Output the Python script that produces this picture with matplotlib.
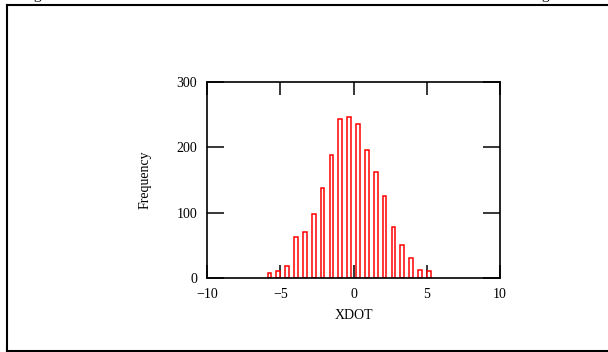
import matplotlib
matplotlib.use("Agg")
import matplotlib.pyplot as plt
from matplotlib.lines import Line2D

plt.rcParams['font.family'] = ['Liberation Serif', 'DejaVu Serif']

# Histogram of XDOT: bin centres and counts
bin_centers = [-5.73, -5.13, -4.52, -3.92, -3.31, -2.71, -2.11, -1.50, -0.90,
               -0.29, 0.31, 0.91, 1.52, 2.12, 2.73, 3.33, 3.93, 4.54, 5.14]
counts = [8, 11, 18, 63, 71, 98, 138, 189, 244,
          246, 235, 196, 163, 125, 78, 51, 31, 13, 11]

x_ticks = [-10, -5, 0, 5, 10]
x_tick_labels = ['\u221210', '\u22125', '0', '5', '10']
y_ticks = [0, 100, 200, 300]
y_tick_labels = ['0', '100', '200', '300']

W, H = 608, 352
fig = plt.figure(figsize=(W / 100, H / 100), dpi=100)

# plot area
ax = fig.add_axes([207 / W, 1 - 278 / H, (500 - 207) / W, (278 - 82) / H])
ax.bar(bin_centers, counts, width=0.26, bottom=0, facecolor='white',
       edgecolor='#ff0000', linewidth=1.1, zorder=2)

ax.set_xlim(-10, 10)
ax.set_ylim(0, 300)

for s in ax.spines.values():
    s.set_linewidth(1.2)
    s.set_color('black')
    s.set_zorder(3)

ax.set_xticks(x_ticks)
ax.set_xticklabels(x_tick_labels, fontsize=10)
ax.set_yticks(y_ticks)
ax.set_yticklabels(y_tick_labels, fontsize=10)
ax.tick_params(axis='x', direction='in', length=9.5, width=1.1, top=True,
               bottom=True, pad=7, colors='black')
ax.tick_params(axis='y', direction='in', length=12, width=1.1, left=True,
               right=True, pad=7, colors='black')

ax.set_ylabel('Frequency', fontsize=10, labelpad=18)
ax.set_xlabel('XDOT', fontsize=10, labelpad=6)

# surrounding frame (left, top, bottom edges)
fx0 = 7 / W
fy_top = 1 - 4.5 / H
fy_bot = 1 - 350.5 / H
frame_kw = dict(color='black', linewidth=1.5, transform=fig.transFigure)
fig.add_artist(Line2D([fx0, fx0], [fy_bot, fy_top], **frame_kw))
fig.add_artist(Line2D([fx0, 1.0], [fy_top, fy_top], **frame_kw))
fig.add_artist(Line2D([fx0, 1.0], [fy_bot, fy_bot], **frame_kw))

# caption line above the frame, only its descenders fall inside the canvas
fig.text(37 / W, 1 + 1.0 / H, 'g', fontsize=11, ha='center', va='baseline')
fig.text(545 / W, 1 + 1.0 / H, 'g', fontsize=11, ha='center', va='baseline')

fig.savefig('out.png', dpi=100)
